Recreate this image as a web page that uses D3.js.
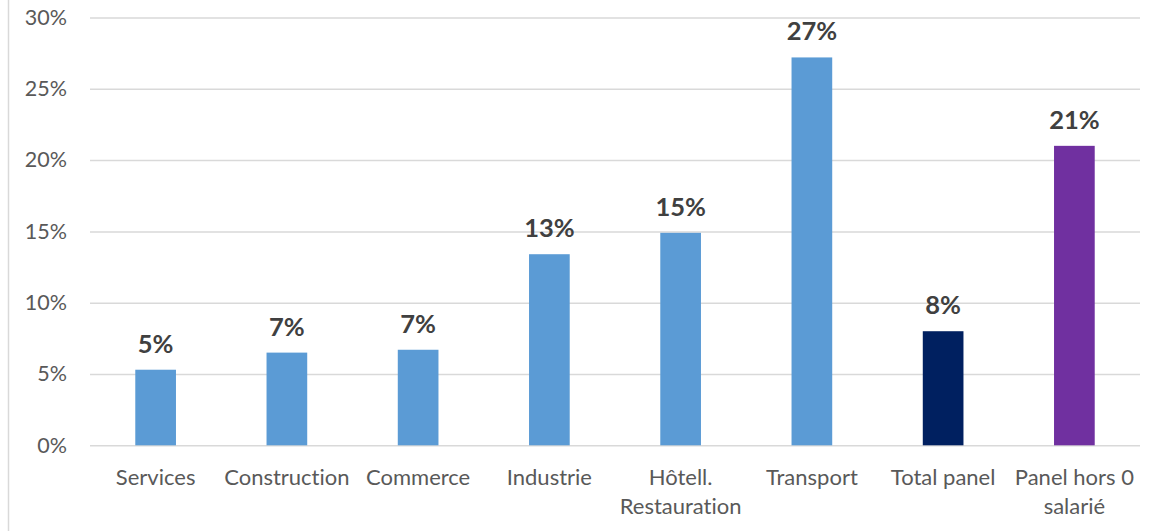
<!DOCTYPE html>
<html>
<head>
<meta charset="utf-8">
<script src="https://cdn.jsdelivr.net/npm/d3@7"></script>
<style>
  html, body { margin: 0; padding: 0; background: #ffffff; }
  svg { display: block; }
  text { font-variant-ligatures: none; font-feature-settings: "liga" 0; }
</style>
</head>
<body>
<svg id="chart" width="1167" height="531"></svg>
<script>
// Share of firms per sector
const categories = ["Services", "Construction", "Commerce", "Industrie", "Hôtell.\nRestauration", "Transport", "Total panel", "Panel hors 0\nsalarié"];
const values = [0.053, 0.065, 0.067, 0.134, 0.149, 0.272, 0.080, 0.210];
const barColors = ["#5B9BD5", "#5B9BD5", "#5B9BD5", "#5B9BD5", "#5B9BD5", "#5B9BD5", "#002060", "#7030A0"];
const yTicks = [0, 0.05, 0.10, 0.15, 0.20, 0.25, 0.30];

const svg = d3.select("#chart");
const margin = { left: 90, right: 27, top: 17.5, bottom: 85.7 };
const W = 1167, H = 531;

const x = d3.scaleBand()
  .domain(categories)
  .range([margin.left, W - margin.right])
  .paddingInner(0.69)
  .paddingOuter(0.345);

const y = d3.scaleLinear()
  .domain([0, 0.30])
  .range([H - margin.bottom, margin.top]);

const fmt = d3.format(".0%");
const font = "Lato, 'Open Sans', sans-serif";

// frame line on the left edge
svg.append("line")
  .attr("x1", 8.5).attr("x2", 8.5)
  .attr("y1", 0).attr("y2", H)
  .attr("stroke", "#d9d9d9").attr("stroke-width", 1.5);

// horizontal gridlines and percentage labels
const yAxis = d3.axisLeft(y)
  .tickValues(yTicks)
  .tickFormat(fmt)
  .tickSize(-(W - margin.left - margin.right))
  .tickPadding(23);

const gy = svg.append("g")
  .attr("transform", `translate(${margin.left},0)`)
  .call(yAxis);
gy.select(".domain").remove();
gy.selectAll(".tick line").attr("stroke", "#d9d9d9").attr("stroke-width", 1.5);
gy.selectAll(".tick text")
  .attr("fill", "#595959")
  .style("font-family", font)
  .style("font-size", "21.5px");

// bars
svg.append("g").selectAll("rect")
  .data(values)
  .join("rect")
  .attr("x", (d, i) => x(categories[i]))
  .attr("width", x.bandwidth())
  .attr("y", d => y(d))
  .attr("height", d => y(0) - y(d))
  .attr("fill", (d, i) => barColors[i]);

// value labels above bars
svg.append("g").selectAll("text")
  .data(values)
  .join("text")
  .attr("x", (d, i) => x(categories[i]) + x.bandwidth() / 2)
  .attr("y", d => y(d) - 17)
  .attr("text-anchor", "middle")
  .attr("fill", "#404040")
  .style("font-family", font)
  .style("font-weight", "bold")
  .style("font-size", "25.5px")
  .text(d => fmt(d));

// category labels, wrapped on explicit line breaks
const gx = svg.append("g");
categories.forEach(c => {
  const t = gx.append("text")
    .attr("x", x(c) + x.bandwidth() / 2)
    .attr("y", y(0) + 40)
    .attr("text-anchor", "middle")
    .attr("fill", "#595959")
    .style("font-family", font)
    .style("font-size", "22px");
  c.split("\n").forEach((line, k) => {
    t.append("tspan")
      .attr("x", x(c) + x.bandwidth() / 2)
      .attr("dy", k === 0 ? 0 : 29)
      .text(line);
  });
});
</script>
</body>
</html>
